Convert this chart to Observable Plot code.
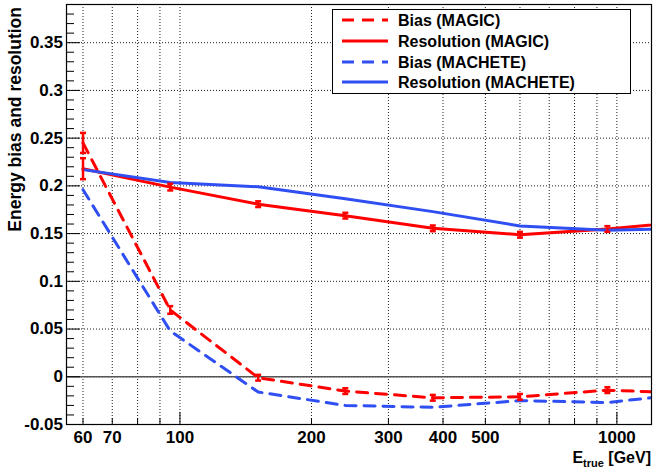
<!DOCTYPE html>
<html>
<head>
<meta charset="utf-8">
<script src="https://cdn.jsdelivr.net/npm/d3@7"></script>
<script src="https://cdn.jsdelivr.net/npm/@observablehq/plot@0.6"></script>
<style>
  html, body { margin: 0; padding: 0; background: #fff; }
  #wrap { position: relative; width: 664px; height: 472px; overflow: hidden; }
  #wrap svg { font-family: "Liberation Sans", Arial, Helvetica, sans-serif; }
  #overlay { position: absolute; left: 0; top: 0; }
</style>
</head>
<body>
<div id="wrap"></div>
<script>
// ---- data ----
const energies      = [60, 95, 151, 239, 379, 600, 951, 1507];
const biasMagic     = [0.245, 0.070, -0.001, -0.015, -0.022, -0.021, -0.014, -0.0175];
const biasMagicErr  = [0.0105, 0.004, 0.003, 0.003, 0.003, 0.003, 0.003, 0.003];
const resMagic      = [0.218, 0.1987, 0.1808, 0.1688, 0.1555, 0.1488, 0.1548, 0.163];
const resMagicErr   = [0.011, 0.0035, 0.003, 0.003, 0.003, 0.003, 0.003, 0.003];
const biasMachete   = [0.196, 0.048, -0.016, -0.030, -0.032, -0.025, -0.027, -0.017];
const resMachete    = [0.217, 0.2035, 0.199, 0.1866, 0.173, 0.158, 0.1535, 0.1555];

const seriesNames   = ["Bias (MAGIC)", "Resolution (MAGIC)", "Bias (MACHETE)", "Resolution (MACHETE)"];
const seriesColors  = ["#ff0000", "#ff0000", "#2f4ff2", "#2f4ff2"];
const seriesDashed  = [true, false, true, false];

const xLabelTicks   = [60, 70, 100, 200, 300, 400, 500, 1000];
const xTickLabels   = ["60", "70", "100", "200", "300", "400", "500", "1000"];
const xGridTicks    = [60, 70, 80, 90, 100, 200, 300, 400, 500, 600, 700, 800, 900, 1000];
const xMajorTicks   = [100, 1000];
const xMinorTicks   = [60, 70, 80, 90, 200, 300, 400, 500, 600, 700, 800, 900];
const yMajorTicks   = [-0.05, 0, 0.05, 0.1, 0.15, 0.2, 0.25, 0.3, 0.35];
const yTickLabels   = ["-0.05", "0", "0.05", "0.1", "0.15", "0.2", "0.25", "0.3", "0.35"];
const yMinorTicks   = [-0.04, -0.03, -0.02, -0.01, 0.01, 0.02, 0.03, 0.04, 0.06, 0.07, 0.08, 0.09,
                       0.11, 0.12, 0.13, 0.14, 0.16, 0.17, 0.18, 0.19, 0.21, 0.22, 0.23, 0.24,
                       0.26, 0.27, 0.28, 0.29, 0.31, 0.32, 0.33, 0.34, 0.36, 0.37, 0.38, 0.39];

const xTitle = "E";
const xTitleSub = "true";
const xTitleUnit = " [GeV]";
const yTitle = "Energy bias and resolution";

// ---- tables ----
const magic = energies.map((e, i) => ({e, bias: biasMagic[i], biasErr: biasMagicErr[i], res: resMagic[i], resErr: resMagicErr[i]}));
const machete = energies.map((e, i) => ({e, bias: biasMachete[i], res: resMachete[i]}));
const xLabelRows = xLabelTicks.map((v, i) => ({v, label: xTickLabels[i]}));
const yLabelRows = yMajorTicks.map((v, i) => ({v, label: yTickLabels[i]}));

const RED = seriesColors[0], BLUE = seriesColors[2];
const DASH = "11,8";
const cap = { draw(ctx, size) { const w = Math.sqrt(size / Math.PI); ctx.moveTo(-w, 0); ctx.lineTo(w, 0); } };
const grid = {stroke: "#000", strokeOpacity: 1, strokeWidth: 0.9, strokeDasharray: "1,2"};
const font = {fontSize: 17, fontWeight: "bold"};

const chart = Plot.plot({
  width: 664,
  height: 472,
  marginLeft: 66,
  marginRight: 13,
  marginTop: 4,
  marginBottom: 48,
  style: {background: "#fff", color: "#000", fontFamily: "'Liberation Sans', Arial, Helvetica, sans-serif"},
  x: {type: "log", domain: [55, 1200]},
  y: {domain: [-0.05, 0.39]},
  marks: [
    Plot.gridX(xGridTicks, grid),
    Plot.gridY(yMajorTicks.filter(v => v > -0.05), grid),
    Plot.ruleY([0], {stroke: "#555", strokeWidth: 1.6}),
    Plot.line(magic, {x: "e", y: "bias", stroke: RED, strokeWidth: 3, strokeDasharray: DASH, clip: true}),
    Plot.line(magic, {x: "e", y: "res", stroke: RED, strokeWidth: 3, clip: true}),
    Plot.line(machete, {x: "e", y: "bias", stroke: BLUE, strokeWidth: 3, strokeDasharray: DASH, clip: true}),
    Plot.line(machete, {x: "e", y: "res", stroke: BLUE, strokeWidth: 3, clip: true}),
    // error bars (MAGIC)
    Plot.ruleX(magic, {x: "e", y1: d => d.bias - d.biasErr, y2: d => d.bias + d.biasErr, stroke: RED, strokeWidth: 2.5, clip: true}),
    Plot.ruleX(magic, {x: "e", y1: d => d.res - d.resErr, y2: d => d.res + d.resErr, stroke: RED, strokeWidth: 2.5, clip: true}),
    Plot.dot(magic, {x: "e", y: d => d.bias + d.biasErr, symbol: cap, r: 3, fill: "none", stroke: RED, strokeWidth: 2.5, clip: true}),
    Plot.dot(magic, {x: "e", y: d => d.bias - d.biasErr, symbol: cap, r: 3, fill: "none", stroke: RED, strokeWidth: 2.5, clip: true}),
    Plot.dot(magic, {x: "e", y: d => d.res + d.resErr, symbol: cap, r: 3, fill: "none", stroke: RED, strokeWidth: 2.5, clip: true}),
    Plot.dot(magic, {x: "e", y: d => d.res - d.resErr, symbol: cap, r: 3, fill: "none", stroke: RED, strokeWidth: 2.5, clip: true}),
    // axes: inward ticks
    Plot.axisY(yMajorTicks, {tickSize: -14, fill: "none", label: null, stroke: "#000"}),
    Plot.axisY(yMinorTicks, {tickSize: -8, fill: "none", label: null, stroke: "#000"}),
    Plot.axisX(xMajorTicks, {tickSize: -12, fill: "none", label: null, stroke: "#000"}),
    Plot.axisX(xMinorTicks, {tickSize: -6, fill: "none", label: null, stroke: "#000"}),
    // tick labels
    Plot.text(yLabelRows, {y: "v", text: "label", frameAnchor: "left", textAnchor: "end", dx: -3.5, ...font}),
    Plot.text(xLabelRows, {x: "v", text: "label", frameAnchor: "bottom", lineAnchor: "top", dy: 6, ...font}),
    Plot.frame({stroke: "#000", strokeWidth: 1.2})
  ]
});

const wrap = document.getElementById("wrap");
wrap.appendChild(chart);

// ---- overlay: titles and legend ----
const NS = "http://www.w3.org/2000/svg";
const ov = document.createElementNS(NS, "svg");
ov.setAttribute("id", "overlay");
ov.setAttribute("width", 664);
ov.setAttribute("height", 472);
ov.setAttribute("font-family", "'Liberation Sans', Arial, Helvetica, sans-serif");
ov.setAttribute("font-weight", "bold");
function el(name, attrs, text) {
  const e = document.createElementNS(NS, name);
  for (const k in attrs) e.setAttribute(k, attrs[k]);
  if (text != null) e.textContent = text;
  return e;
}
// y title
ov.appendChild(el("text", {transform: "translate(21,7) rotate(-90)", "text-anchor": "end", "font-size": 17.5}, yTitle));
// x title
const xt = el("text", {x: 651, y: 463, "text-anchor": "end", "font-size": 16});
xt.appendChild(el("tspan", {}, xTitle));
xt.appendChild(el("tspan", {"font-size": 11, dy: 4}, xTitleSub));
xt.appendChild(el("tspan", {dy: -4}, xTitleUnit));
ov.appendChild(xt);
// legend
ov.appendChild(el("rect", {x: 332.5, y: 9.5, width: 298, height: 84, fill: "#fff", stroke: "#000", "stroke-width": 1}));
const rowY = [20, 41, 62, 82];
seriesNames.forEach((name, i) => {
  ov.appendChild(el("line", {x1: 342, x2: 388, y1: rowY[i], y2: rowY[i], stroke: seriesColors[i], "stroke-width": 3,
    "stroke-dasharray": seriesDashed[i] ? "12,8" : "none"}));
  ov.appendChild(el("text", {x: 398, y: rowY[i], dy: "0.36em", "font-size": 16}, name));
});
wrap.appendChild(ov);
</script>
</body>
</html>
